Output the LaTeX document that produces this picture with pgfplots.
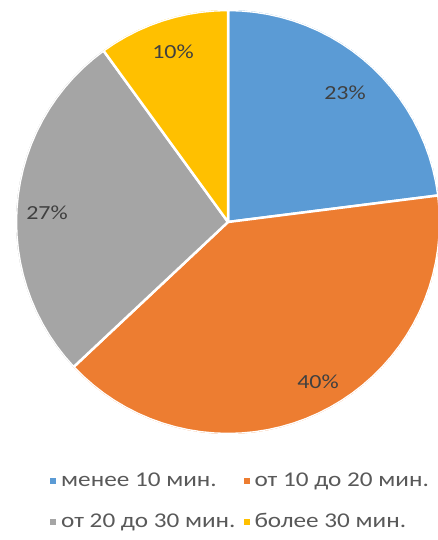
\documentclass[border=0pt]{standalone}
\usepackage{fontspec}
\setmainfont{Carlito}
\newfontfamily\chartfont{Carlito}[FakeStretch=1.2]
\usepackage{pgfplots}
\pgfplotsset{compat=1.18}
\usepgfplotslibrary{polar}

\definecolor{cblue}{HTML}{5B9BD5}
\definecolor{corange}{HTML}{ED7D31}
\definecolor{cgray}{HTML}{A5A5A5}
\definecolor{cyellow}{HTML}{FFC000}
\definecolor{ctext}{HTML}{404040}
\definecolor{clegend}{HTML}{595959}

\begin{document}
\begin{tikzpicture}
\useasboundingbox (0pt,0pt) rectangle (438pt,540pt);
\clip (0pt,0pt) rectangle (438pt,540pt);

% pie: x = cumulative percent (filtered to angle, clockwise from 12 o'clock), y = radius
\begin{polaraxis}[
    hide axis, scale only axis,
    width=424pt, height=424pt,
    at={(228pt,318pt)}, anchor=center,
    xmin=0, xmax=360, ymin=0, ymax=1,
    x filter/.expression={90-3.6*x},
    legend image code/.code={\fill[#1, draw=none] (0pt,-3pt) rectangle (6pt,3pt);},
    legend columns=2,
    legend style={at={(0.0802,-0.0896)}, anchor=north west,
      draw=none, fill=none, inner sep=0pt,
      font=\chartfont\fontsize{21}{25}\selectfont, text=clegend,
      nodes={inner sep=0pt, anchor=west, text height=14pt, text depth=4pt},
      column sep=0pt, row sep=23pt,
      /tikz/every odd column/.append style={column sep=5pt},
      /tikz/every even column/.append style={column sep=8pt}},
  ]
  % менее 10 мин. -- 23%
  \addplot[fill=cblue, draw=white, line width=2.5pt, line join=round] coordinates {
    (0,0) (0,1) (1,1) (2,1) (3,1) (4,1) (5,1) (6,1) (7,1) (8,1) (9,1) (10,1)
    (11,1) (12,1) (13,1) (14,1) (15,1) (16,1) (17,1) (18,1) (19,1) (20,1)
    (21,1) (22,1) (23,1)
  } -- cycle;
  \addlegendentry{менее 10 мин.}
  % от 10 до 20 мин. -- 40%
  \addplot[fill=corange, draw=white, line width=2.5pt, line join=round] coordinates {
    (23,0) (23,1) (24,1) (25,1) (26,1) (27,1) (28,1) (29,1) (30,1) (31,1)
    (32,1) (33,1) (34,1) (35,1) (36,1) (37,1) (38,1) (39,1) (40,1) (41,1)
    (42,1) (43,1) (44,1) (45,1) (46,1) (47,1) (48,1) (49,1) (50,1) (51,1)
    (52,1) (53,1) (54,1) (55,1) (56,1) (57,1) (58,1) (59,1) (60,1) (61,1)
    (62,1) (63,1)
  } -- cycle;
  \addlegendentry{от 10 до 20 мин.}
  % от 20 до 30 мин. -- 27%
  \addplot[fill=cgray, draw=white, line width=2.5pt, line join=round] coordinates {
    (63,0) (63,1) (64,1) (65,1) (66,1) (67,1) (68,1) (69,1) (70,1) (71,1)
    (72,1) (73,1) (74,1) (75,1) (76,1) (77,1) (78,1) (79,1) (80,1) (81,1)
    (82,1) (83,1) (84,1) (85,1) (86,1) (87,1) (88,1) (89,1) (90,1)
  } -- cycle;
  \addlegendentry{от 20 до 30 мин.}
  % более 30 мин. -- 10%
  \addplot[fill=cyellow, draw=white, line width=2.5pt, line join=round] coordinates {
    (90,0) (90,1) (91,1) (92,1) (93,1) (94,1) (95,1) (96,1) (97,1) (98,1)
    (99,1) (100,1)
  } -- cycle;
  \addlegendentry{более 30 мин.}
\end{polaraxis}

% data labels
\begin{scope}[font=\chartfont\fontsize{20}{24}\selectfont, text=ctext]
  \node at (345pt,447pt) {23\%};
  \node at (318pt,158pt) {40\%};
  \node at (47pt,327pt) {27\%};
  \node at (173pt,488pt) {10\%};
\end{scope}
\end{tikzpicture}
\end{document}
